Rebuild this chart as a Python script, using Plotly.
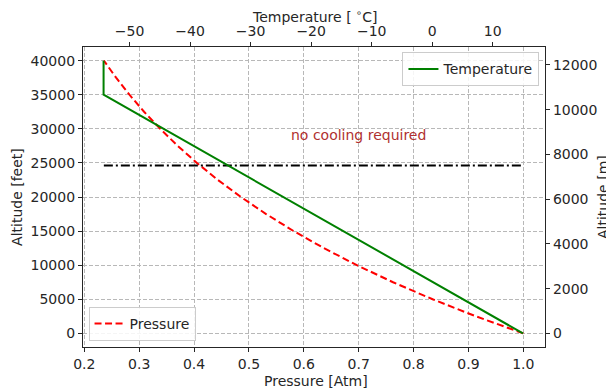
import plotly.graph_objects as go

# Data
altitude_ft = [0, 2500, 5000, 7500, 10000, 12500, 15000, 17500, 20000,
               22500, 25000, 27500, 30000, 32500, 35000, 37500, 40000]
pressure_atm = [1.0, 0.9136, 0.8347, 0.7626, 0.6967, 0.6365, 0.5815, 0.5313,
                0.4854, 0.4434, 0.4052, 0.3701, 0.3382, 0.3089, 0.2822,
                0.2579, 0.2356]

temp_alt_ft = [0, 35000, 40000]
temperature_c = [15.0, -54.3, -54.3]

limit_alt_ft = 24606          # ~7500 m, cooling limit
limit_x = [min(pressure_atm), max(pressure_atm)]

pressure_ticks = [0.2, 0.3, 0.4, 0.5, 0.6, 0.7, 0.8, 0.9, 1.0]
temp_ticks = [-50, -40, -30, -20, -10, 0, 10]
feet_ticks = [0, 5000, 10000, 15000, 20000, 25000, 30000, 35000, 40000]
meter_ticks = [0, 2000, 4000, 6000, 8000, 10000, 12000]

FT2M = 0.3048
y_range_ft = [-2000, 42000]

FS = 14
font = dict(family="DejaVu Sans", size=FS, color="#262626")

fig = go.Figure()

fig.add_trace(go.Scatter(
    x=pressure_atm, y=altitude_ft, mode="lines", name="Pressure",
    line=dict(color="red", width=2, dash="7px,3.5px"),
    xaxis="x", yaxis="y", legend="legend"))

fig.add_trace(go.Scatter(
    x=limit_x, y=[limit_alt_ft, limit_alt_ft], mode="lines",
    line=dict(color="black", width=2, dash="9px,3px,2px,3px"),
    showlegend=False, xaxis="x", yaxis="y"))

fig.add_trace(go.Scatter(
    x=temperature_c, y=temp_alt_ft, mode="lines", name="Temperature",
    line=dict(color="green", width=2),
    xaxis="x2", yaxis="y", legend="legend2"))

# invisible trace to activate the right (metres) axis
fig.add_trace(go.Scatter(
    x=[1.0, 1.0], y=[0, 12000], mode="lines",
    line=dict(color="rgba(0,0,0,0)", width=0),
    showlegend=False, hoverinfo="skip", xaxis="x", yaxis="y2"))

fig.add_annotation(
    x=0.7, y=29100, xref="x", yref="y", text="no cooling required",
    showarrow=False, font=dict(family="DejaVu Sans", size=FS, color="#b03030"))

# axis titles placed as annotations
titles = [
    ("Temperature [ <sup>∘</sup>C]", 0.501, 1.105, 0),
    ("Pressure [Atm]", 0.505, -0.113, 0),
    ("Altitude [feet]", -0.143, 0.5, -90),
    ("Altitude [m]", 1.1255, 0.5, -90),
]
for txt, ax_, ay_, rot in titles:
    fig.add_annotation(x=ax_, y=ay_, xref="paper", yref="paper", text=txt,
                       showarrow=False, textangle=rot, font=font,
                       xanchor="center", yanchor="middle")

axis_common = dict(
    showline=True, linecolor="#262626", linewidth=1.2,
    ticks="outside", ticklen=4, tickwidth=1, tickcolor="#262626",
    tickfont=font, zeroline=False, automargin=False)

grid = dict(showgrid=True, gridcolor="#b8b8b8", griddash="4px,2px", gridwidth=1)

# page body has an 8px default margin, so the figure is sized to fit
fig.update_layout(
    width=606, height=383,
    margin=dict(l=75, r=69, t=39, b=44),
    paper_bgcolor="white", plot_bgcolor="white",
    font=font,
    xaxis=dict(range=[0.1976, 1.0395], tickvals=pressure_ticks,
               tickformat=".1f", **grid, **axis_common),
    xaxis2=dict(range=[-57.7, 18.64], tickvals=temp_ticks, overlaying="x",
                side="top", anchor="y", showgrid=False, **axis_common),
    yaxis=dict(range=y_range_ft, tickvals=feet_ticks, tickformat="d",
               **grid, **axis_common),
    yaxis2=dict(range=[y_range_ft[0] * FT2M, y_range_ft[1] * FT2M],
                tickvals=meter_ticks, tickformat="d", overlaying="y",
                side="right", anchor="x", showgrid=False, **axis_common),
    legend=dict(
        x=0.012, y=0.02, xanchor="left", yanchor="bottom",
        bgcolor="rgba(255,255,255,0.85)", bordercolor="#cccccc", borderwidth=1,
        font=font),
    legend2=dict(
        x=0.988, y=0.982, xanchor="right", yanchor="top",
        bgcolor="rgba(255,255,255,0.85)", bordercolor="#cccccc", borderwidth=1,
        font=font),
    showlegend=True,
)

fig.write_html("out.html")
